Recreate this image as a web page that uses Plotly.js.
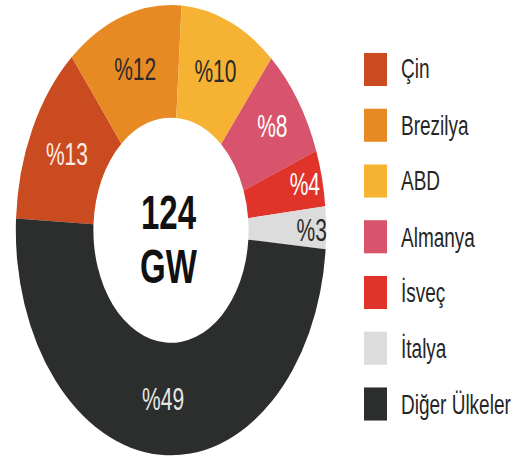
<!DOCTYPE html>
<html>
<head>
<meta charset="utf-8">
<script src="https://cdn.plot.ly/plotly-3.0.1.min.js"></script>
<style>
  html, body { margin: 0; padding: 0; background: #fff; }
  #wrap { width: 519px; height: 460px; overflow: hidden; position: relative; }
  #chart { width: 519px; height: 317px; transform: scaleY(1.451); transform-origin: 0 0; }
</style>
</head>
<body>
<div id="wrap"><div id="chart"></div></div>
<script>
// Data
const categories = ["Çin", "Brezilya", "ABD", "Almanya", "İsveç", "İtalya", "Diğer Ülkeler"];
const shares = [13, 12, 10, 8, 4, 3, 49];
const sliceColors = ["#CB4B20", "#E88A24", "#F6B333", "#D8546D", "#E0332A", "#DCDCDC", "#2C2E2E"];
const labelColors = ["#FBEDE6", "#2a2a2a", "#2a2a2a", "#FFFFFF", "#FFFFFF", "#2a2a2a", "#E6E6E6"];
const centerLines = ["124", "GW"];

const FONT = "Liberation Sans, Arial, Helvetica, sans-serif";

const trace = {
  type: "pie",
  labels: categories,
  values: shares,
  text: shares.map(v => "%" + v),
  textinfo: "text",
  textposition: "inside",
  insidetextorientation: "horizontal",
  insidetextfont: { family: FONT, size: 21, color: labelColors },
  hole: 0.5,
  sort: false,
  direction: "clockwise",
  rotation: -87,
  marker: { colors: sliceColors, line: { width: 0 } },
  domain: { x: [0.0304, 0.6285], y: [0.010, 0.989] },
  showlegend: false,
  hoverinfo: "none"
};

const H = 317;
const shapes = [];
const annotations = [];
// manual legend (squares + labels) built from the category arrays
categories.forEach((c, i) => {
  const yc = (69.5 + 55.75 * i) / 1.451; // px from top (unscaled)
  const yPaper = (H - yc) / H;
  const half = 11.4 / H;
  shapes.push({
    type: "rect", xref: "paper", yref: "paper",
    x0: 364 / 519, x1: 387 / 519, y0: yPaper - half, y1: yPaper + half,
    fillcolor: sliceColors[i], line: { width: 0 }
  });
  annotations.push({
    xref: "paper", yref: "paper", x: 399 / 519, y: yPaper,
    xanchor: "left", yanchor: "middle", showarrow: false,
    text: c, font: { family: FONT, size: 19, color: "#262626" }
  });
});
// center text
annotations.push({
  xref: "paper", yref: "paper", x: 168.5 / 519, y: 0.539,
  xanchor: "center", yanchor: "middle", showarrow: false,
  text: "<b>" + centerLines[0] + "</b>", font: { family: FONT, size: 33, color: "#111" }
});
annotations.push({
  xref: "paper", yref: "paper", x: 168.5 / 519, y: 0.421,
  xanchor: "center", yanchor: "middle", showarrow: false,
  text: "<b>" + centerLines[1] + "</b>", font: { family: FONT, size: 33, color: "#111" }
});

const layout = {
  width: 519, height: H,
  margin: { l: 0, r: 0, t: 0, b: 0 },
  paper_bgcolor: "#fff",
  showlegend: false,
  uniformtext: { minsize: 21, mode: "show" },
  shapes: shapes,
  annotations: annotations
};

Plotly.newPlot("chart", [trace], layout, { displayModeBar: false, staticPlot: true });
</script>
</body>
</html>
